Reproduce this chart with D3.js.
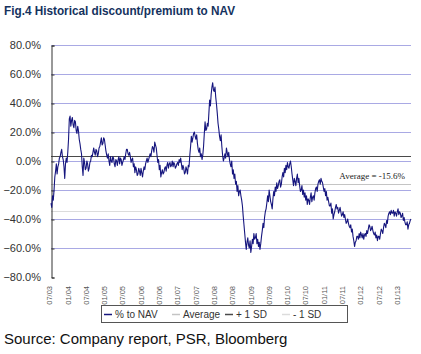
<!DOCTYPE html>
<html>
<head>
<meta charset="utf-8">
<script src="https://cdn.jsdelivr.net/npm/d3@7"></script>
<style>
  body { margin: 0; background: #fff; }
  svg { display: block; font-family: Arial, "Liberation Sans", sans-serif; }
</style>
</head>
<body>
<svg id="chart"></svg>
<script>
// % discount/premium to NAV, weekly readings 07/2003 - 05/2013
const navPct = [
  -29, -32, -24, -27, -20, -11, -7, -2, -9, -4, -2, 2, 3, 6, 8, 3, 1, -4, -12, -2,
  2, -1, 6, 15, 29, 31, 24, 28, 30, 25, 23, 28, 27, 21, 19, 24, 21, 15, 12, 8,
  5, -4, -10, 2, -1, -6, -5, 0, -2, -7, -5, -1, 0, 4, 3, 6, 9, 6, 4, 8,
  7, 3, 5, 9, 10, 13, 16, 11, 12, 16, 15, 11, 7, 4, 2, 5, 0, -3, 3, 0,
  -1, 3, 2, -2, -4, 1, 0, -3, 1, 3, -2, 2, 1, -3, -1, 1, 3, 1, 5, 8,
  8, 5, 4, 6, 3, -1, 1, 2, -4, -2, -8, -4, -6, -10, -9, -5, -7, -10, -5, -8,
  -11, -7, -4, -6, -2, 0, 2, -1, 1, 3, 5, 3, 7, 10, 9, 6, 13, 11, 9, 4,
  -1, 1, -6, -3, -11, -8, -6, -9, -8, -5, -4, -7, -3, -1, -5, -2, -1, -4, -3, 0,
  -4, -1, -2, -5, -4, -2, -1, -3, 1, -1, 2, -2, -6, -3, -5, -9, -8, -4, -6, -9,
  -3, -4, 4, 10, 17, 13, 16, 19, 20, 17, 15, 18, 12, 8, 6, 9, 3, 5, 1, 4,
  10, 19, 27, 21, 22, 26, 24, 33, 42, 38, 46, 51, 54, 49, 48, 51, 44, 39, 33, 26,
  22, 17, 14, 18, 10, 4, 0, 2, 5, 2, 9, 6, 3, 6, 1, -2, -4, 0, -9, -6,
  -12, -9, -16, -14, -21, -17, -24, -21, -20, -24, -27, -31, -38, -44, -50, -56, -61, -56, -53, -58,
  -60, -55, -63, -59, -54, -57, -50, -54, -53, -50, -57, -54, -59, -56, -61, -57, -52, -48, -43, -46,
  -39, -35, -33, -29, -24, -28, -20, -24, -28, -30, -33, -26, -21, -24, -18, -21, -15, -19, -17, -14,
  -13, -18, -16, -11, -8, -11, -5, -8, -3, -6, -1, -4, -5, -2, 0, -4, -9, -13, -17, -12,
  -14, -17, -12, -9, -15, -12, -17, -21, -20, -17, -23, -20, -25, -22, -27, -24, -30, -26, -27, -30,
  -25, -22, -28, -25, -24, -27, -22, -19, -18, -21, -16, -14, -13, -16, -12, -14, -15, -18, -21, -19,
  -24, -21, -27, -25, -28, -31, -31, -29, -36, -33, -40, -37, -35, -32, -30, -33, -32, -36, -34, -32,
  -35, -38, -37, -35, -39, -37, -40, -43, -42, -40, -43, -45, -46, -44, -49, -47, -52, -55, -59, -56,
  -55, -52, -52, -54, -50, -53, -49, -51, -53, -50, -54, -51, -50, -52, -48, -50, -47, -44, -45, -48,
  -47, -45, -48, -50, -51, -49, -53, -51, -55, -52, -52, -54, -50, -47, -48, -50, -46, -43, -44, -46,
  -41, -43, -38, -36, -35, -37, -34, -36, -36, -34, -38, -35, -36, -38, -35, -33, -37, -35, -36, -39,
  -38, -36, -41, -39, -42, -44, -44, -42, -47, -44, -43, -41, -40
];

const yTicks = [80, 60, 40, 20, 0, -20, -40, -60, -80];
const xTickLabels = ["07/03", "01/04", "07/04", "01/05", "07/05", "01/06", "07/06", "01/07", "07/07", "01/08",
  "07/08", "01/09", "07/09", "01/10", "07/10", "01/11", "07/11", "01/12", "07/12", "01/13"];

const averagePct = -15.6;
const plusSD = 3.5;
const minusSD = -34.8;

const legendNames = ["% to NAV", "Average", "+ 1 SD", "- 1 SD"];
const legendColors = ["#16167e", "#c4c4c4", "#4a4a4a", "#dcdcdc"];

const width = 421, height = 354;
const plot = { left: 51, right: 411, top: 45, bottom: 277 };

const parseTick = d3.timeParse("%m/%y");
const startDate = new Date(2003, 6, 1);
const endDate = new Date(2013, 4, 1);
const dates = navPct.map((_, i) =>
  new Date(+startDate + i * (endDate - startDate) / (navPct.length - 1)));

const x = d3.scaleTime()
  .domain([startDate, endDate])
  .range([plot.left, plot.right]);

const y = d3.scaleLinear()
  .domain([-80, 80])
  .range([plot.bottom, plot.top]);

const svg = d3.select("#chart")
  .attr("width", width)
  .attr("height", height);

svg.append("rect").attr("width", width).attr("height", height).attr("fill", "#fff");

// title
svg.append("text")
  .attr("x", 4).attr("y", 15)
  .attr("fill", "#15325e")
  .attr("font-weight", "bold")
  .attr("font-size", 12.5)
  .attr("textLength", 231)
  .attr("lengthAdjust", "spacingAndGlyphs")
  .text("Fig.4 Historical discount/premium to NAV");

// gridlines
svg.append("g")
  .selectAll("line")
  .data(yTicks.filter(d => d > -80))
  .join("line")
  .attr("x1", plot.left).attr("x2", plot.right)
  .attr("y1", d => y(d) + 0.5).attr("y2", d => y(d) + 0.5)
  .attr("stroke", "#a9a9e4")
  .attr("stroke-width", 1);

// reference lines
const refs = [
  { v: averagePct, c: legendColors[1] },
  { v: plusSD, c: legendColors[2] },
  { v: minusSD, c: legendColors[3] }
];
svg.append("g")
  .selectAll("line")
  .data(refs)
  .join("line")
  .attr("x1", plot.left).attr("x2", plot.right)
  .attr("y1", d => Math.round(y(d.v)) + 0.5).attr("y2", d => Math.round(y(d.v)) + 0.5)
  .attr("stroke", d => d.c)
  .attr("stroke-width", 1);

// y axis
const yAxis = svg.append("g")
  .attr("transform", `translate(${plot.left + 0.5},0.5)`)
  .call(d3.axisRight(y).tickValues(yTicks).tickSize(3).tickFormat(""));
yAxis.select(".domain").attr("stroke", "#333");
yAxis.selectAll(".tick line").attr("stroke", "#333");

svg.append("g")
  .selectAll("text")
  .data(yTicks)
  .join("text")
  .attr("x", 41)
  .attr("y", d => y(d))
  .attr("dy", "0.35em")
  .attr("text-anchor", "end")
  .attr("font-size", 11)
  .attr("fill", "#333")
  .text(d => d3.format(".1f")(d) + "%");

// x labels
svg.append("g")
  .selectAll("text")
  .data(xTickLabels)
  .join("text")
  .attr("transform", d => `translate(${x(parseTick(d)) - 1.5},286) rotate(-90)`)
  .attr("dy", "0.35em")
  .attr("text-anchor", "end")
  .attr("font-size", 7.5)
  .attr("fill", "#555")
  .text(d => d);

// series
const line = d3.line()
  .x((d, i) => x(dates[i]))
  .y(d => y(d));

svg.append("path")
  .datum(navPct)
  .attr("fill", "none")
  .attr("stroke", legendColors[0])
  .attr("stroke-width", 1.1)
  .attr("stroke-linejoin", "round")
  .attr("d", line);

// average label
svg.append("text")
  .attr("x", 405).attr("y", 179)
  .attr("text-anchor", "end")
  .attr("font-family", "'Liberation Serif', 'Times New Roman', serif")
  .attr("font-size", 9)
  .attr("fill", "#222")
  .text(`Average = ${averagePct}%`);

// legend
const legend = svg.append("g");
legend.append("rect")
  .attr("x", 101.5).attr("y", 305.5)
  .attr("width", 246).attr("height", 17)
  .attr("fill", "#fff")
  .attr("stroke", "#555");

const legendX = [104, 172, 225, 282];
const items = legend.selectAll("g")
  .data(legendNames)
  .join("g")
  .attr("transform", (d, i) => `translate(${legendX[i]},314)`);
items.append("line")
  .attr("x1", 0).attr("x2", 8)
  .attr("y1", 0.5).attr("y2", 0.5)
  .attr("stroke", (d, i) => legendColors[i])
  .attr("stroke-width", 1.5);
items.append("text")
  .attr("x", 11)
  .attr("dy", "0.35em")
  .attr("font-size", 10)
  .attr("fill", "#333")
  .text(d => d);

// source
svg.append("text")
  .attr("x", 4).attr("y", 344)
  .attr("font-size", 15)
  .attr("fill", "#111")
  .text("Source: Company report, PSR, Bloomberg");
</script>
</body>
</html>
